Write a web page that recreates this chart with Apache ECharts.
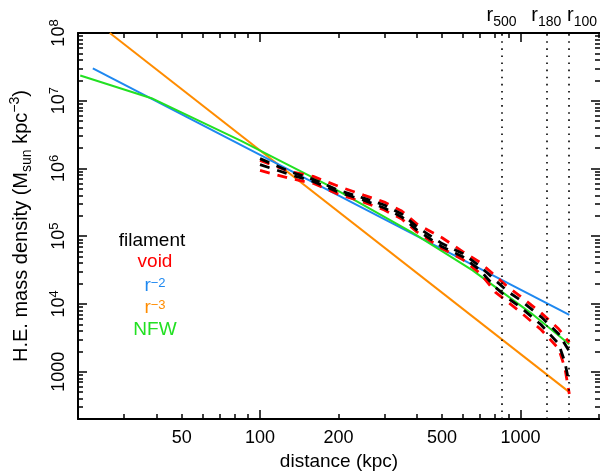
<!DOCTYPE html>
<html><head><meta charset="utf-8">
<script src="https://cdn.jsdelivr.net/npm/echarts@6/dist/echarts.min.js"></script>
<style>html,body{margin:0;padding:0;background:#fff}#c{width:600px;height:476px}</style>
</head><body><div id="c"></div>
<script>
// ---- data ----
const xRange = [20, 2020];
const yRange = [200, 1e8];
const xTickLabels = [50, 100, 200, 500, 1000];
const xMajorTicks = [100, 1000];
const xMinorTicks = [30, 40, 50, 60, 70, 80, 90, 200, 300, 400, 500, 600, 700, 800, 900, 2000];
const yTickLabels = [1000, 1e4, 1e5, 1e6, 1e7, 1e8];
const yMinorTicks = [300, 400, 500, 600, 700, 800, 900,
  2000, 3000, 4000, 5000, 6000, 7000, 8000, 9000,
  2e4, 3e4, 4e4, 5e4, 6e4, 7e4, 8e4, 9e4,
  2e5, 3e5, 4e5, 5e5, 6e5, 7e5, 8e5, 9e5,
  2e6, 3e6, 4e6, 5e6, 6e6, 7e6, 8e6, 9e6,
  2e7, 3e7, 4e7, 5e7, 6e7, 7e7, 8e7, 9e7];
const rLines = [846, 1256, 1537];
const rNames = ['500', '180', '100'];

const filamentUpper = [[100,1.4e6],[130,9.0e5],[160,6.9e5],[200,4.77e5],[250,3.65e5],[300,2.89e5],[350,2.13e5],[400,1.38e5],[500,7.8e4],[600,5.56e4],[700,3.6e4],[800,2.24e4],[900,1.5e4],[1000,1.14e4],[1200,6.46e3],[1400,3.65e3],[1540,2.0e3]];
const filamentLower = [[100,1.14e6],[130,8.17e5],[160,6.46e5],[200,4.46e5],[250,3.41e5],[300,2.61e5],[350,1.93e5],[400,1.24e5],[500,7.0e4],[600,5.0e4],[700,3.14e4],[800,1.77e4],[900,1.2e4],[1000,9.0e3],[1200,4.93e3],[1400,2.6e3],[1480,1.4e3],[1540,660]];
const voidUpper = [[100,1.31e6],[130,9.04e5],[160,7.64e5],[200,5.46e5],[250,4.04e5],[300,3.19e5],[350,2.36e5],[400,1.52e5],[500,9.5e4],[600,5.94e4],[700,4.1e4],[800,2.6e4],[900,1.75e4],[1000,1.3e4],[1200,7.4e3],[1400,4.31e3],[1540,2.7e3]];
const voidLower = [[100,9.35e5],[130,7.14e5],[160,6.04e5],[200,4.17e5],[250,3.19e5],[300,2.44e5],[350,1.8e5],[400,1.16e5],[500,6.6e4],[600,4.54e4],[700,2.84e4],[800,1.5e4],[900,1.05e4],[1000,7.6e3],[1200,4.17e3],[1400,2.2e3],[1480,1.15e3],[1540,470]];
const rMinus2 = [[22.8,3.0e7],[1540,6.9e3]];
const rMinus3 = [[26.5,1.0e8],[1540,5.0e2]];
const nfw = [[20.4,2.36e7],[38.3,1.09e7],[84.6,2.56e6],[186,5.46e5],[386,1.12e5],[655,3.13e4],[1110,7.1e3],[1540,2.55e3]];

// ---- style ----
const FF = 'Liberation Sans, Arial, sans-serif';
const C = { black:'#000000', red:'#ff0000', blue:'#1e88f0', orange:'#ff8c00', green:'#22e022' };

function xAx(pos, ticks, len, showLine, labels, extra) {
  return Object.assign({
    type:'log', logBase:10, min:xRange[0], max:xRange[1], position:pos,
    axisLine:{show:showLine, onZero:false, lineStyle:{color:'#000', width:2}},
    axisTick:{show:true, inside:true, length:len, customValues:ticks, lineStyle:{color:'#000', width:1.5}},
    axisLabel: labels ? {show:true, customValues:labels, margin:10, fontSize:18, color:'#000', fontFamily:FF,
      formatter: v => String(Math.round(v))} : {show:false},
    splitLine:{show:false}, minorTick:{show:false}
  }, extra||{});
}
function yAx(pos, ticks, len, showLine, labels, extra) {
  return Object.assign({
    type:'log', logBase:10, min:yRange[0], max:yRange[1], position:pos,
    axisLine:{show:showLine, onZero:false, lineStyle:{color:'#000', width:2}},
    axisTick:{show:true, inside:true, length:len, customValues:ticks, lineStyle:{color:'#000', width:1.5}},
    axisLabel: labels ? {show:true, customValues:labels, margin:8, rotate:90, fontSize:18, lineHeight:22, color:'#000', fontFamily:FF,
      formatter: function(v){ const e = Math.round(Math.log10(v)); return e <= 3 ? String(Math.round(v)) : '10{sup|' + e + '}'; },
      rich:{ sup:{fontSize:13, lineHeight:13, verticalAlign:'top', color:'#000', fontFamily:FF} } } : {show:false},
    splitLine:{show:false}, minorTick:{show:false}
  }, extra||{});
}

function lineSeries(name, data, color, dashed, extra) {
  return Object.assign({
    name, type:'line', data, xAxisIndex:0, yAxisIndex:0, showSymbol:false, symbol:'none',
    clip:true, silent:true,
    lineStyle:{color, width: dashed ? 2.8 : 2, type: dashed ? [10, 8] : 'solid'}
  }, extra||{});
}

const option = {
  animation:false,
  backgroundColor:'#fff',
  grid:{left:76, right:-1, top:33, bottom:52, containLabel:false},
  xAxis:[
    xAx('bottom', xMajorTicks, 9, true, xTickLabels, {
      name:'distance (kpc)', nameLocation:'middle', nameGap:31,
      nameTextStyle:{fontSize:19, color:'#000', fontFamily:FF}}),
    xAx('bottom', xMinorTicks, 5, false, null),
    xAx('top', xMajorTicks, 9, true, null),
    xAx('top', xMinorTicks, 5, false, null)
  ],
  yAxis:[
    yAx('left', yTickLabels, 9, true, yTickLabels, {
      name:'H.E. mass density (M{sub|sun} kpc{sup|\u22123})', nameLocation:'middle', nameGap:44, nameRotate:90,
      nameTextStyle:{fontSize:20, lineHeight:26, color:'#000', fontFamily:FF,
        rich:{ sub:{fontSize:14, lineHeight:14, verticalAlign:'bottom', color:'#000', fontFamily:FF},
               sup:{fontSize:14, lineHeight:14, verticalAlign:'top', color:'#000', fontFamily:FF} } }}),
    yAx('left', yMinorTicks, 5, false, null),
    yAx('right', yTickLabels, 9, false, null),
    yAx('right', yMinorTicks, 5, false, null)
  ],
  series:[
    lineSeries('r^-3', rMinus3, C.orange, false),
    lineSeries('r^-2', rMinus2, C.blue, false),
    lineSeries('NFW', nfw, C.green, false),
    lineSeries('void upper', voidUpper, C.red, true),
    lineSeries('filament upper', filamentUpper, C.black, true),
    lineSeries('void lower', voidLower, C.red, true),
    lineSeries('filament lower', filamentLower, C.black, true, {
      markLine:{
        silent:true, symbol:'none', animation:false,
        lineStyle:{color:'#000', width:1.6, type:[1.6,5.5]},
        label:{show:true, position:'end', distance:4, color:'#000', fontFamily:FF,
          formatter: p => '{r|r}{s|' + p.name + '}',
          rich:{ r:{fontSize:20, lineHeight:24, verticalAlign:'top', color:'#000', fontFamily:FF},
                 s:{fontSize:14, lineHeight:14, verticalAlign:'bottom', color:'#000', fontFamily:FF} } },
        data: rLines.map((v, i) => i === 2
          ? {xAxis:v, name:rNames[i], label:{offset:[13,0]}}
          : {xAxis:v, name:rNames[i]})
      }
    })
  ]
};

const legendItems = [
  {text:'filament', color:C.black, x:152, y:241},
  {text:'void', color:C.red, x:155, y:262},
  {text:'r{s|\u22122}', color:C.blue, x:155, y:286},
  {text:'r{s|\u22123}', color:C.orange, x:155, y:308},
  {text:'NFW', color:C.green, x:155, y:330}
];
option.graphic = legendItems.map(it => ({
  type:'text', x:it.x, y:it.y, silent:true,
  style:{text:it.text, fill:it.color, font:'19px ' + FF, align:'center', verticalAlign:'middle',
    rich:{ s:{fontSize:13, fontFamily:FF, fill:it.color, verticalAlign:'top', lineHeight:12} } }
}));

const chart = echarts.init(document.getElementById('c'), null, {renderer:'canvas'});
chart.setOption(option);
</script></body></html>
